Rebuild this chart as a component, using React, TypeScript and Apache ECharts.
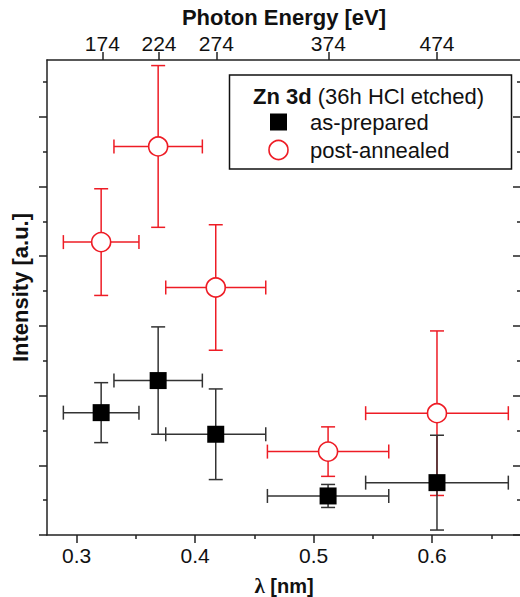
import React, { useEffect, useRef } from "react";
import * as echarts from "echarts";

// λ positions (nm) and their horizontal error half-widths
const lambda = [0.3207, 0.3688, 0.4174, 0.5122, 0.6041];
const lambdaErr = [0.0319, 0.0373, 0.0422, 0.0512, 0.0602];

// Intensity (a.u.) and symmetric vertical error
const asPrepared = [1.755, 2.215, 1.445, 0.56, 0.751];
const asPreparedErr = [0.43, 0.77, 0.65, 0.165, 0.68];
const postAnnealed = [4.201, 5.573, 3.55, 1.196, 1.747];
const postAnnealedErr = [0.765, 1.16, 0.9, 0.355, 1.18];

// Top axis: photon energies and the λ at which they sit
const energies = [174, 224, 274, 374, 474];
const energyLambda = [0.3217, 0.3695, 0.4179, 0.5124, 0.6041];

const xMajor = [0.3, 0.4, 0.5, 0.6];
const xMinor = [0.35, 0.45, 0.55, 0.65];
const yMajor = [0, 1, 2, 3, 4, 5, 6];
const yMinor = [0.5, 1.5, 2.5, 3.5, 4.5, 5.5, 6.5];

const FONT = "Liberation Sans, Arial, sans-serif";
const RED = "#ee1c25";
const BLACK = "#000";
const AXIS = "#222";

const X_MIN = 0.275;
const X_MAX = 0.675;
const Y_MIN = 0;
const Y_MAX = 6.813;

function errorSeries(vals: number[], errs: number[], color: string) {
  const data = vals.map((v, i) => [lambda[i], v, lambdaErr[i], errs[i]]);
  return {
    type: "custom",
    xAxisIndex: 0,
    yAxisIndex: 0,
    data,
    encode: { x: 0, y: 1 },
    silent: true,
    renderItem: (params: any, api: any) => {
      const x = api.value(0);
      const y = api.value(1);
      const ex = api.value(2);
      const ey = api.value(3);
      const c = api.coord([x, y]);
      const l = api.coord([x - ex, y]);
      const r = api.coord([x + ex, y]);
      const t = api.coord([x, y + ey]);
      const b = api.coord([x, y - ey]);
      const cap = 7;
      const style = { stroke: color, lineWidth: 1.5 };
      return {
        type: "group",
        children: [
          { type: "line", shape: { x1: l[0], y1: c[1], x2: r[0], y2: c[1] }, style },
          { type: "line", shape: { x1: c[0], y1: t[1], x2: c[0], y2: b[1] }, style },
          { type: "line", shape: { x1: l[0], y1: c[1] - cap, x2: l[0], y2: c[1] + cap }, style },
          { type: "line", shape: { x1: r[0], y1: c[1] - cap, x2: r[0], y2: c[1] + cap }, style },
          { type: "line", shape: { x1: c[0] - cap, y1: t[1], x2: c[0] + cap, y2: t[1] }, style },
          { type: "line", shape: { x1: c[0] - cap, y1: b[1], x2: c[0] + cap, y2: b[1] }, style },
        ],
      };
    },
  };
}

export default function App() {
  const ref = useRef<HTMLDivElement>(null);
  useEffect(() => {
    if (!ref.current) return;
    const chart = echarts.init(ref.current, undefined, { renderer: "svg" });
    const baseX = { type: "value", min: X_MIN, max: X_MAX, splitLine: { show: false } };
    const baseY = { type: "value", min: Y_MIN, max: Y_MAX, splitLine: { show: false } };
    const lineStyle = { color: AXIS, width: 1.5 };
    chart.setOption({
      animation: false,
      backgroundColor: "#fff",
      textStyle: { fontFamily: FONT },
      grid: {
        left: 47,
        top: 60,
        width: 474,
        height: 475,
        containLabel: false,
        outerBoundsMode: "none",
      },
      xAxis: [
        {
          ...baseX,
          position: "bottom",
          axisLine: { show: true, onZero: false, lineStyle },
          axisTick: { show: true, customValues: xMajor, length: 8, lineStyle },
          axisLabel: {
            show: true,
            customValues: xMajor,
            fontSize: 21,
            color: "#111",
            margin: 10,
            fontFamily: FONT,
            formatter: (v: number) => v.toFixed(1),
          },
          name: "{l|λ} [nm]",
          nameLocation: "middle",
          nameGap: 41,
          nameTextStyle: {
            fontSize: 20,
            fontWeight: "bold",
            color: "#111",
            fontFamily: FONT,
            lineHeight: 20,
            rich: {
              l: {
                fontSize: 21,
                fontWeight: "bold",
                lineHeight: 20,
                fontFamily: "Liberation Serif, serif",
                color: "#111",
              },
            },
          },
        },
        {
          ...baseX,
          position: "bottom",
          axisLine: { show: false },
          axisTick: { show: true, customValues: xMinor, length: 4, lineStyle },
          axisLabel: { show: false },
        },
        {
          ...baseX,
          position: "top",
          axisLine: { show: true, onZero: false, lineStyle },
          axisTick: { show: true, customValues: energyLambda, length: 8, lineStyle },
          axisLabel: {
            show: true,
            customValues: energyLambda,
            fontSize: 21,
            color: "#111",
            margin: 6,
            fontFamily: FONT,
            formatter: (v: number) => {
              const i = energyLambda.findIndex((l) => Math.abs(l - v) < 1e-6);
              return i >= 0 ? String(energies[i]) : "";
            },
          },
          name: "Photon Energy [eV]",
          nameLocation: "middle",
          nameGap: 30,
          nameTextStyle: { fontSize: 22, fontWeight: "bold", color: "#111", fontFamily: FONT },
        },
      ],
      yAxis: [
        {
          ...baseY,
          position: "left",
          axisLine: { show: true, onZero: false, lineStyle },
          axisTick: { show: true, customValues: yMajor, length: 8, lineStyle },
          axisLabel: { show: false },
          name: "Intensity [a.u.]",
          nameLocation: "middle",
          nameRotate: 90,
          nameGap: 16,
          nameTextStyle: {
            fontSize: 22,
            fontWeight: "bold",
            color: "#111",
            fontFamily: FONT,
            padding: [0, 0, 0, 20],
          },
        },
        {
          ...baseY,
          position: "left",
          axisLine: { show: false },
          axisTick: { show: true, customValues: yMinor, length: 4, lineStyle },
          axisLabel: { show: false },
        },
        {
          ...baseY,
          position: "right",
          axisLine: { show: true, onZero: false, lineStyle },
          axisTick: { show: true, inside: true, customValues: yMajor, length: 8, lineStyle },
          axisLabel: { show: false },
        },
        {
          ...baseY,
          position: "right",
          axisLine: { show: false },
          axisTick: { show: true, inside: true, customValues: yMinor, length: 4, lineStyle },
          axisLabel: { show: false },
        },
      ],
      series: [
        errorSeries(postAnnealed, postAnnealedErr, RED),
        errorSeries(asPrepared, asPreparedErr, "#333"),
        {
          type: "scatter",
          name: "post-annealed",
          xAxisIndex: 0,
          yAxisIndex: 0,
          data: postAnnealed.map((v, i) => [lambda[i], v]),
          symbol: "circle",
          symbolSize: 19,
          itemStyle: { color: "#fff", borderColor: RED, borderWidth: 1.6, opacity: 1 },
          z: 3,
        },
        {
          type: "scatter",
          name: "as-prepared",
          xAxisIndex: 0,
          yAxisIndex: 0,
          data: asPrepared.map((v, i) => [lambda[i], v]),
          symbol: "rect",
          symbolSize: 17,
          itemStyle: { color: BLACK, opacity: 1 },
          z: 4,
        },
      ],
      graphic: [
        {
          type: "group",
          z: 100,
          children: [
            {
              type: "rect",
              shape: { x: 229.5, y: 75, width: 282, height: 94 },
              style: { fill: "#fff", stroke: "#111", lineWidth: 1.5 },
            },
            {
              type: "text",
              x: 253,
              y: 96,
              style: {
                text: "{b|Zn 3d} (36h HCl etched)",
                fontSize: 22,
                fontFamily: FONT,
                fill: "#111",
                verticalAlign: "middle",
                rich: { b: { fontWeight: "bold", fontSize: 22, fontFamily: FONT, fill: "#111" } },
              },
            },
            {
              type: "rect",
              shape: { x: 270, y: 113.5, width: 17, height: 17 },
              style: { fill: BLACK },
            },
            {
              type: "text",
              x: 310,
              y: 122,
              style: { text: "as-prepared", fontSize: 22, fontFamily: FONT, fill: "#111", verticalAlign: "middle" },
            },
            {
              type: "circle",
              shape: { cx: 278.5, cy: 150, r: 9.5 },
              style: { fill: "#fff", stroke: RED, lineWidth: 1.6 },
            },
            {
              type: "text",
              x: 310,
              y: 150,
              style: { text: "post-annealed", fontSize: 22, fontFamily: FONT, fill: "#111", verticalAlign: "middle" },
            },
          ],
        },
      ],
    });
    return () => chart.dispose();
  }, []);
  return (
    <div
      ref={ref}
      style={{ position: "absolute", left: 0, top: 0, width: 520, height: 597 }}
    />
  );
}
